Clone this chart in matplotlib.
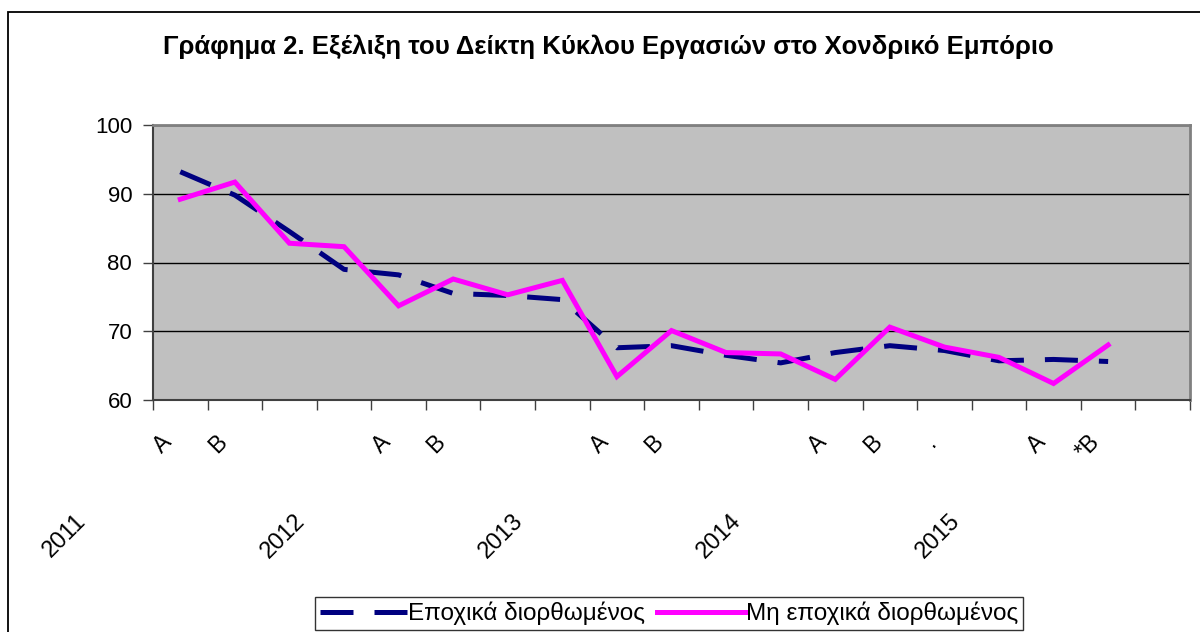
import matplotlib
matplotlib.use("Agg")
import matplotlib.pyplot as plt
import matplotlib.transforms as mtransforms
from matplotlib.patches import Rectangle
from matplotlib.lines import Line2D

plt.rcParams['font.family'] = ['Liberation Sans', 'DejaVu Sans']

# ---------------- data ----------------
title = "Γράφημα 2. Εξέλιξη του Δείκτη Κύκλου Εργασιών στο Χονδρικό Εμπόριο"
period_labels = ["A", "B", "", "", "A", "B", "", "", "A", "B", "", "",
                 "A", "B", ".", "", "A", "*B", ""]
years = ["2011", "2012", "2013", "2014", "2015"]
seasonally_adjusted = [93.2, 89.8, 84.5, 79.0, 78.2, 75.5, 75.2, 74.6, 67.6,
                       67.9, 66.5, 65.4, 66.9, 67.9, 67.2, 65.7, 65.9, 65.6]
not_seasonally_adjusted = [89.2, 91.7, 82.8, 82.3, 73.7, 77.6, 75.3, 77.4, 63.4,
                           70.1, 66.9, 66.7, 63.0, 70.6, 67.7, 66.2, 62.4, 68.0]
series_names = ["Εποχικά διορθωμένος", "Μη εποχικά διορθωμένος"]
y_ticks = [60, 70, 80, 90, 100]

# ---------------- figure ----------------
W, H = 1200, 632
fig = plt.figure(figsize=(W / 100, H / 100), dpi=100)
fig.patch.set_facecolor("white")

# outer chart frame (left and top edges visible)
fig.patches.append(Rectangle((8 / W, -0.2), 1.2, 1.2 - 12 / H,
                             transform=fig.transFigure, fill=False,
                             edgecolor="black", linewidth=1.3))

L, R, T, B = 153, 1190, 125, 400
ax = fig.add_axes([L / W, 1 - B / H, (R - L) / W, (B - T) / H])
ax.set_facecolor("#C0C0C0")

n_cat = len(period_labels)
x = list(range(len(seasonally_adjusted)))

ax.plot(x, seasonally_adjusted, color="#000080", linewidth=3.6,
        dashes=(6.6, 4.2), solid_capstyle="butt", dash_capstyle="butt",
        label=series_names[0], zorder=3)
ax.plot(x, not_seasonally_adjusted, color="#FF00FF", linewidth=3.6,
        label=series_names[1], zorder=4, solid_joinstyle="miter")

ax.set_xlim(-0.5, n_cat - 0.5)
ax.set_ylim(60, 100)

# gridlines
ax.set_yticks(y_ticks)
ax.set_yticklabels([str(v) for v in y_ticks], fontsize=16)
ax.yaxis.grid(True, color="black", linewidth=1.0)
ax.set_axisbelow(True)

# x ticks at category boundaries, labels at centres
ax.set_xticks([i - 0.5 for i in range(n_cat + 1)])
ax.set_xticklabels([])
ax.set_xticks(list(range(n_cat)), minor=True)
ax.set_xticklabels(period_labels, minor=True, fontsize=16.5, rotation=45,
                   ha="right", va="top", rotation_mode="anchor")
ax.tick_params(axis="x", which="minor", length=0, pad=22)
ax.tick_params(axis="x", which="major", direction="out", length=7,
               width=1, color="#404040")
ax.tick_params(axis="y", direction="out", length=7, width=1,
               color="#404040", pad=8)

for lbl in ax.get_xticklabels(minor=True):
    lbl.set_transform(lbl.get_transform() +
                      mtransforms.ScaledTranslation(-20 / 100, 0, fig.dpi_scale_trans))

for s in ["top", "right"]:
    ax.spines[s].set_color("#808080")
    ax.spines[s].set_linewidth(2.0)
for s in ["left", "bottom"]:
    ax.spines[s].set_color("#404040")
    ax.spines[s].set_linewidth(1.5)

# year labels (second level of category axis)
blend = mtransforms.blended_transform_factory(ax.transData, ax.transAxes)
for k, yr in enumerate(years):
    ax.text(4 * k - 2.12, (B - 536) / (B - T), yr, transform=blend,
            rotation=45, ha="center", va="center", fontsize=17,
            rotation_mode="anchor", clip_on=False)

# title
fig.text(608 / W, 1 - 47 / H, title, ha="center", va="center",
         fontsize=18.5, fontweight="bold")

# legend
handles = [Line2D([], [], color="#000080", linewidth=3.6, dashes=(6.6, 4.2)),
           Line2D([], [], color="#FF00FF", linewidth=3.6)]
leg = fig.legend(handles, series_names, loc="lower center",
                 bbox_to_anchor=(669 / W, 2 / H), ncol=2, fontsize=17.5,
                 frameon=True, fancybox=False, edgecolor="black",
                 handlelength=3.6, handletextpad=0.05, columnspacing=0.5,
                 borderpad=0.2, borderaxespad=0)
leg.get_frame().set_linewidth(1.0)

fig.savefig("out.png", dpi=100)
